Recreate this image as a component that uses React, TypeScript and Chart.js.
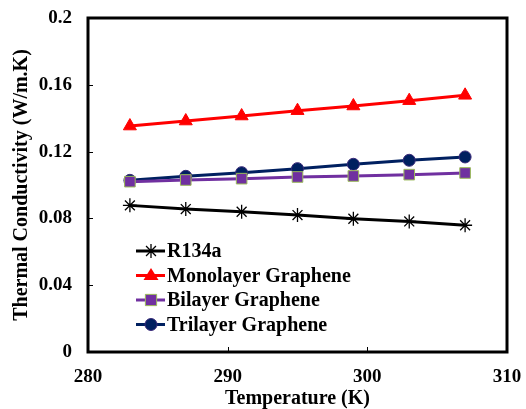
import React, { useEffect, useRef } from "react";
import { Chart, registerables } from "chart.js";

Chart.register(...registerables);

const temperatures = [283, 287, 291, 295, 299, 303, 307];
const r134a = [0.0878, 0.0856, 0.084, 0.082, 0.0798, 0.0782, 0.0759];
const monolayer = [0.1353, 0.1383, 0.1413, 0.1445, 0.1473, 0.1505, 0.1537];
const bilayer = [0.102, 0.103, 0.1038, 0.1048, 0.1054, 0.1062, 0.1072];
const trilayer = [0.1028, 0.1052, 0.1074, 0.1098, 0.1124, 0.1148, 0.1168];
const seriesNames = ["R134a", "Monolayer Graphene", "Bilayer Graphene", "Trilayer Graphene"];
const xTicks = [280, 290, 300, 310];
const yTicks = [0, 0.04, 0.08, 0.12, 0.16, 0.2];

const FONT = '"Liberation Serif", "Times New Roman", serif';

const toPoints = (ys: number[]) => temperatures.map((x, i) => ({ x, y: ys[i] }));

function zeroPadding(s: any) {
  s.paddingLeft = 0;
  s.paddingRight = 0;
  s.paddingTop = 0;
  s.paddingBottom = 0;
}

function drawMarker(ctx: CanvasRenderingContext2D, style: string, r: number, x: number, y: number) {
  ctx.beginPath();
  if (style === "triangle") {
    ctx.moveTo(x, y - r);
    ctx.lineTo(x + r, y + r * 0.6);
    ctx.lineTo(x - r, y + r * 0.6);
    ctx.closePath();
    ctx.fill();
  } else if (style === "rect") {
    const s = r * 0.75;
    ctx.rect(x - s, y - s, 2 * s, 2 * s);
    ctx.fill();
    ctx.stroke();
  } else if (style === "circle") {
    ctx.arc(x, y, r, 0, Math.PI * 2);
    ctx.fill();
    ctx.stroke();
  } else if (style === "star") {
    for (let k = 0; k < 4; k++) {
      const a = (k * Math.PI) / 4;
      ctx.moveTo(x - Math.cos(a) * r, y - Math.sin(a) * r);
      ctx.lineTo(x + Math.cos(a) * r, y + Math.sin(a) * r);
    }
    ctx.stroke();
  }
}

const frameAndLegend = {
  id: "frameAndLegend",
  afterDatasetsDraw(chart: any) {
    const { ctx, chartArea, scales } = chart;
    ctx.save();
    ctx.strokeStyle = "#000";
    ctx.lineWidth = 1;
    ctx.beginPath();
    xTicks.forEach((v) => {
      const px = Math.round(scales.x.getPixelForValue(v)) + 0.5;
      ctx.moveTo(px, chartArea.bottom);
      ctx.lineTo(px, chartArea.bottom - 5);
    });
    yTicks.forEach((v) => {
      const py = Math.round(scales.y.getPixelForValue(v)) + 0.5;
      ctx.moveTo(chartArea.left, py);
      ctx.lineTo(chartArea.left + 5, py);
    });
    ctx.stroke();
    ctx.lineWidth = 3;
    ctx.strokeRect(chartArea.left, chartArea.top, chartArea.right - chartArea.left, chartArea.bottom - chartArea.top);

    const x0 = chartArea.left + 48;
    const y0 = chartArea.top + 233;
    chart.data.datasets.forEach((ds: any, i: number) => {
      const y = y0 + i * 24.5;
      ctx.strokeStyle = ds.borderColor;
      ctx.lineWidth = 3;
      ctx.beginPath();
      ctx.moveTo(x0, y);
      ctx.lineTo(x0 + 29, y);
      ctx.stroke();
      ctx.fillStyle = ds.pointBackgroundColor;
      ctx.strokeStyle = ds.pointBorderColor;
      ctx.lineWidth = ds.pointBorderWidth;
      drawMarker(ctx, ds.pointStyle, ds.pointRadius, x0 + 15, y);
      ctx.fillStyle = "#000";
      ctx.font = `bold 20px ${FONT}`;
      ctx.textBaseline = "middle";
      ctx.textAlign = "left";
      ctx.fillText(ds.label, x0 + 31, y + 1);
    });
    ctx.restore();
  },
};

export default function App() {
  const ref = useRef<HTMLCanvasElement>(null);
  useEffect(() => {
    if (!ref.current) return;
    const chart = new Chart(ref.current, {
      type: "line",
      data: {
        datasets: [
          {
            label: seriesNames[0],
            data: toPoints(r134a),
            borderColor: "#000000",
            borderWidth: 3,
            pointStyle: "star",
            pointRadius: 7,
            pointBackgroundColor: "#000000",
            pointBorderColor: "#000000",
            pointBorderWidth: 1.3,
          },
          {
            label: seriesNames[1],
            data: toPoints(monolayer),
            borderColor: "#FF0000",
            borderWidth: 3,
            pointStyle: "triangle",
            pointRadius: 7.5,
            pointBackgroundColor: "#FF0000",
            pointBorderColor: "#FF0000",
            pointBorderWidth: 1,
          },
          {
            label: seriesNames[2],
            data: toPoints(bilayer),
            borderColor: "#7030A0",
            borderWidth: 3,
            pointStyle: "rect",
            pointRadius: 7.5,
            pointBackgroundColor: "#7030A0",
            pointBorderColor: "#9BBB59",
            pointBorderWidth: 1,
          },
          {
            label: seriesNames[3],
            data: toPoints(trilayer),
            borderColor: "#002060",
            borderWidth: 3,
            pointStyle: "circle",
            pointRadius: 6,
            pointBackgroundColor: "#002060",
            pointBorderColor: "#3A2A7A",
            pointBorderWidth: 1,
          },
        ],
      },
      options: {
        responsive: false,
        animation: false,
        layout: { padding: { top: 18, right: 19, left: 0, bottom: 0 } },
        plugins: { legend: { display: false }, tooltip: { enabled: false } },
        scales: {
          x: {
            type: "linear",
            min: 280,
            max: 310,
            afterFit: (s: any) => {
              s.height = 57;
              zeroPadding(s);
            },
            afterBuildTicks: (s: any) => {
              s.ticks = xTicks.map((v) => ({ value: v }));
            },
            grid: { display: false, drawTicks: false },
            border: { display: false },
            ticks: {
              padding: 14,
              color: "#000",
              font: { family: FONT, size: 19, weight: "bold" },
            },
            title: {
              display: true,
              text: "Temperature (K)",
              color: "#000",
              padding: { top: 0, bottom: 0 },
              font: { family: FONT, size: 20, weight: "bold", lineHeight: 1.05 },
            },
          },
          y: {
            type: "linear",
            min: 0,
            max: 0.2,
            afterFit: (s: any) => {
              s.width = 88;
              zeroPadding(s);
            },
            afterBuildTicks: (s: any) => {
              s.ticks = yTicks.map((v) => ({ value: v }));
            },
            grid: { display: false, drawTicks: false },
            border: { display: false },
            ticks: {
              padding: 16,
              color: "#000",
              font: { family: FONT, size: 19, weight: "bold" },
              callback: (v: any) => String(Number(Number(v).toFixed(2))),
            },
            title: {
              display: true,
              text: "Thermal Conductivity (W/m.K)",
              color: "#000",
              padding: { top: 10, bottom: 0 },
              font: { family: FONT, size: 20, weight: "bold" },
            },
          },
        },
      },
      plugins: [frameAndLegend],
    } as any);
    return () => chart.destroy();
  }, []);
  return (
    <div style={{ position: "fixed", left: 0, top: 0, width: 526, height: 409, background: "#fff" }}>
      <canvas ref={ref} width={526} height={409} style={{ width: 526, height: 409 }} />
    </div>
  );
}
